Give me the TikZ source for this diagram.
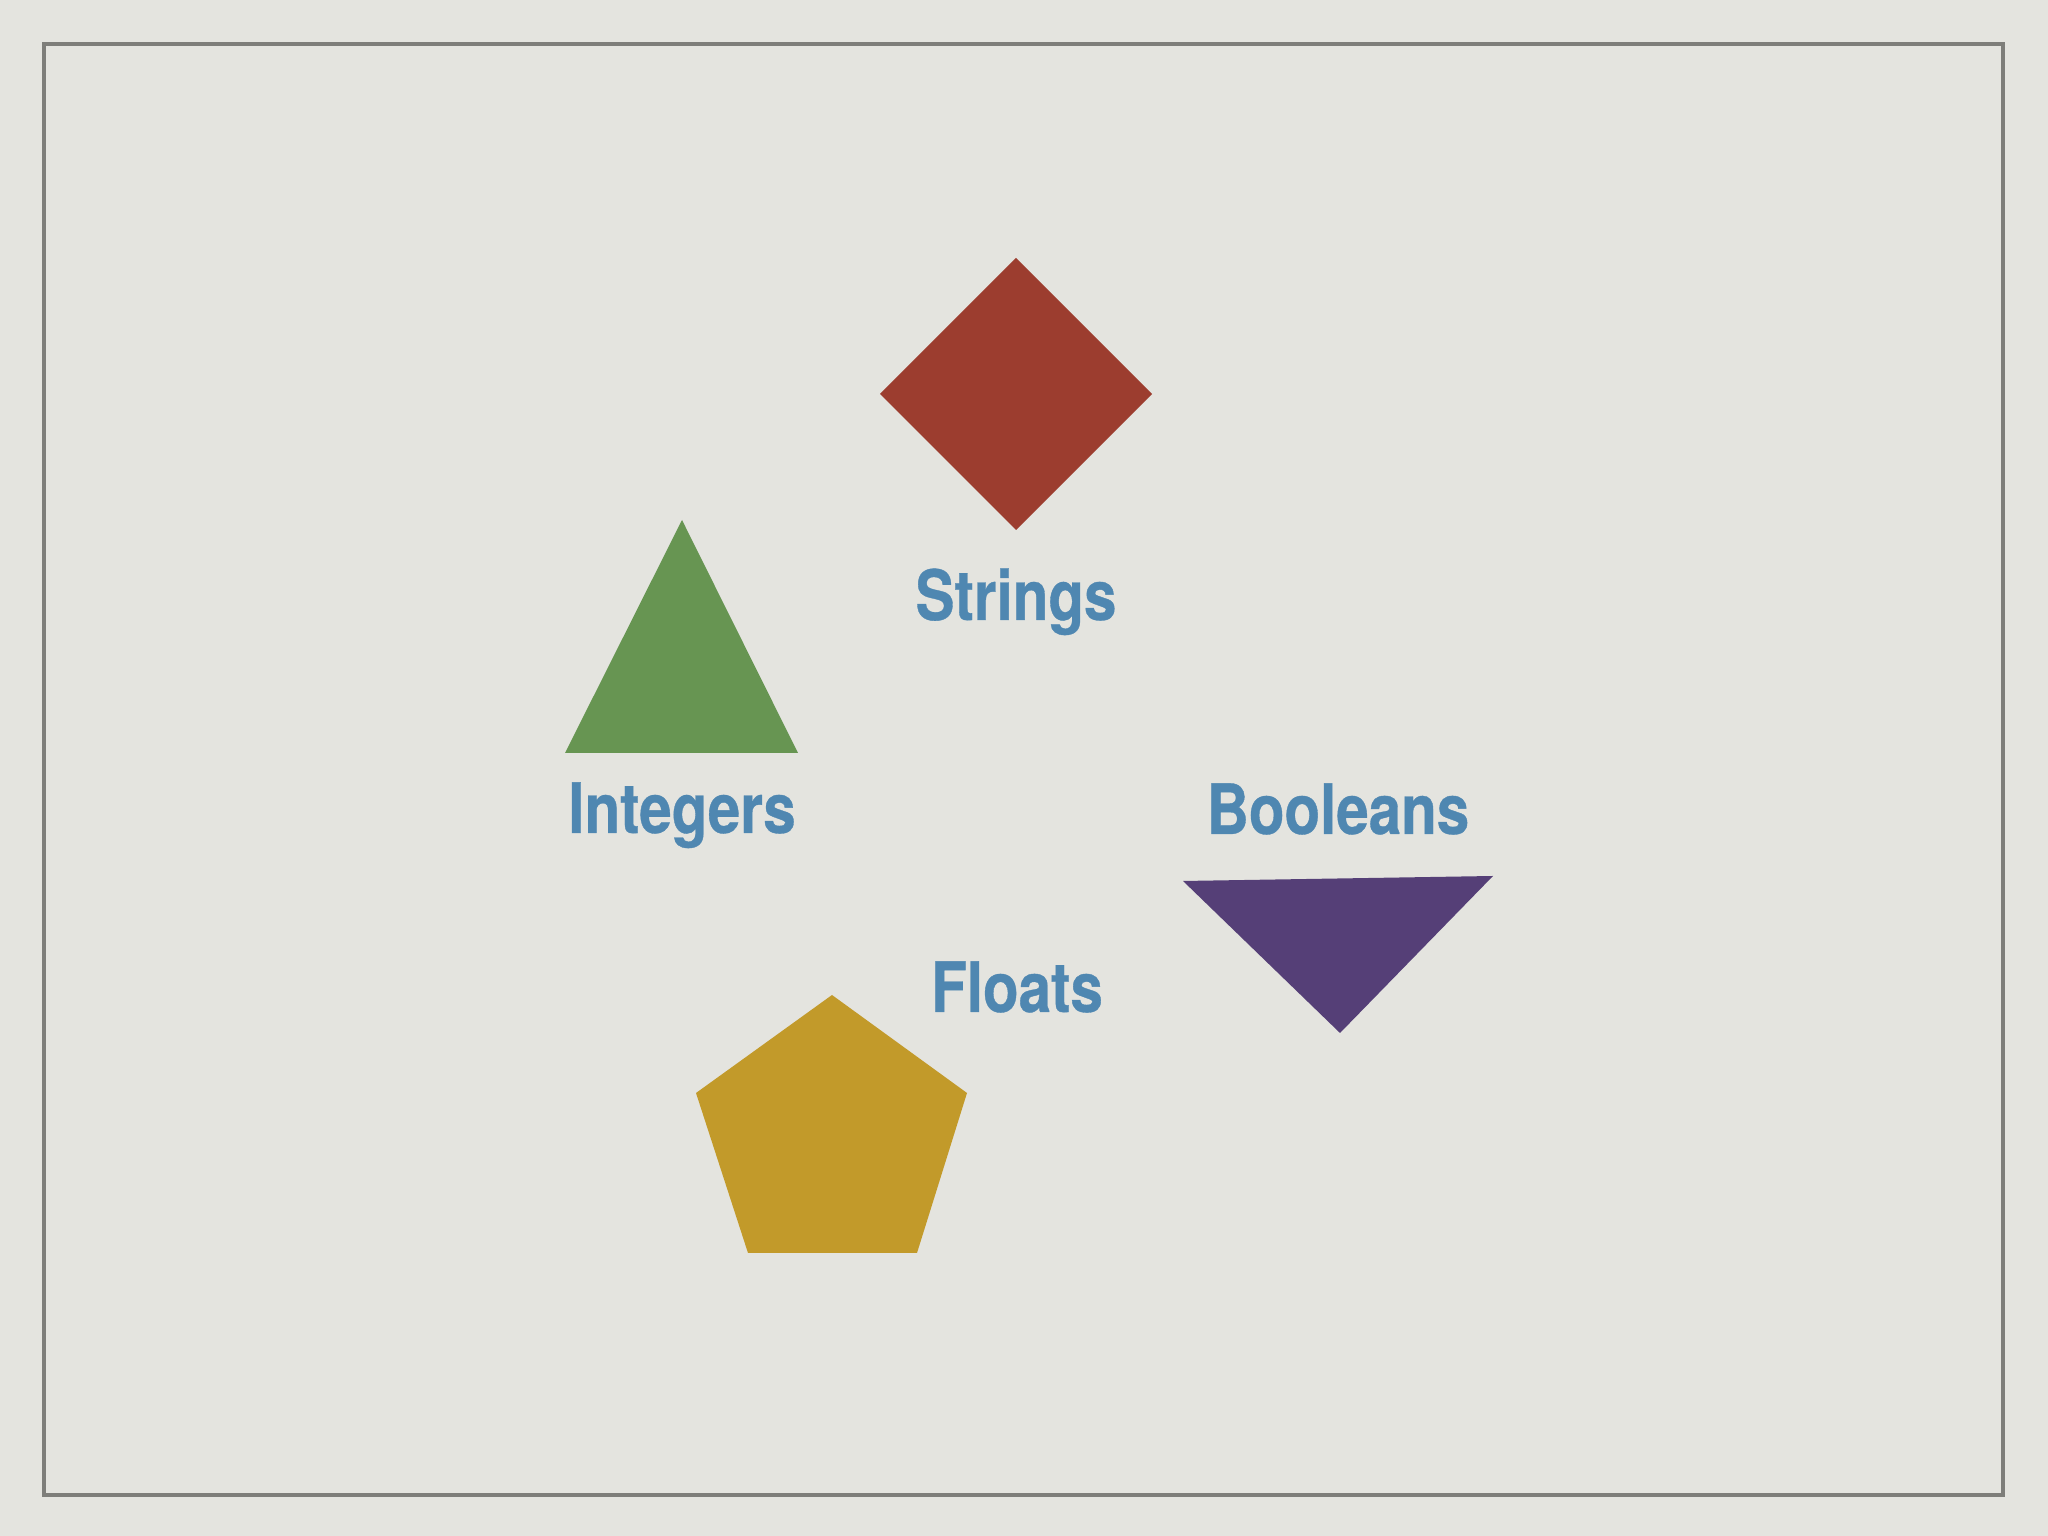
\documentclass[tikz,border=0pt]{standalone}
\usepackage{fontspec}
\setmainfont{TeX Gyre Heros}[FakeStretch=0.84,BoldFeatures={FakeStretch=0.84,FakeBold=0.5}]
\definecolor{paper}{HTML}{E4E4DF}
\definecolor{frame}{HTML}{7E7E7A}
\definecolor{labelblue}{HTML}{4F87B1}
\definecolor{strred}{HTML}{9C3D2F}
\definecolor{intgreen}{HTML}{679552}
\definecolor{boolpurple}{HTML}{553F77}
\definecolor{floatgold}{HTML}{C29A2A}
\tikzset{
  typelabel/.style={anchor=base,inner sep=0pt,text=labelblue,
    font=\fontsize{34.7bp}{40bp}\selectfont\bfseries},
}
\begin{document}
\begin{tikzpicture}[line join=miter]
%%
\fill [paper] (0bp,0bp) rectangle (1024bp,768bp);
\useasboundingbox (0bp,0bp) rectangle (1024bp,768bp);
\draw [frame,line width=2bp] (22bp,20.5bp) rectangle (1001.5bp,746bp);
%
  \fill [strred] (440bp,571bp) -- (508bp,639bp) -- (576bp,571bp) -- (508bp,503bp) -- cycle;
  \fill [intgreen] (341bp,508bp) -- (282.5bp,391.5bp) -- (399bp,391.5bp) -- cycle;
  \fill [boolpurple] (591.5bp,327.5bp) -- (746.5bp,330bp) -- (670bp,251.5bp) -- cycle;
  \fill [floatgold] (416bp,270.5bp) -- (483.5bp,221.5bp) -- (458.5bp,141.5bp) -- (374bp,141.5bp) -- (348bp,221.5bp) -- cycle;
%
  \node (strings) at (508bp,458bp) [typelabel] {Strings};
  \node (integers) at (341bp,351.5bp) [typelabel] {Integers};
  \node (booleans) at (669bp,351bp) [typelabel] {Booleans};
  \node (floats) at (508.5bp,262bp) [typelabel] {Floats};
%
\end{tikzpicture}
\end{document}
